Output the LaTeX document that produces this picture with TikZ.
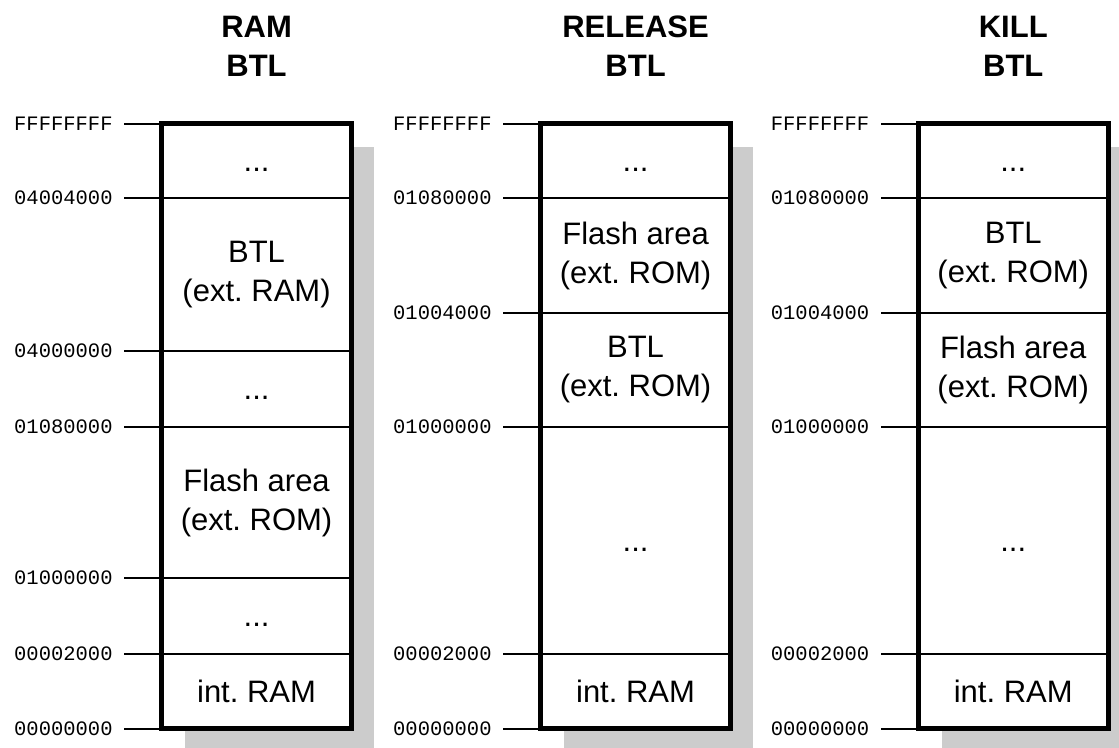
\documentclass[tikz,border=0pt]{standalone}
\usepackage{fontspec}
\setmainfont{Liberation Sans}
\newfontfamily\addrfamily{Liberation Mono}
\newcommand\addrfont{\addrfamily\fontsize{20.5}{24}\selectfont}
\newcommand\regionfont{\frenchspacing\fontsize{31}{39}\selectfont}
\newcommand\titlefont{\bfseries\fontsize{31}{39}\selectfont}
\newcommand\dotsfill{\vphantom{A}...}

\tikzset{
  memborder/.style={line width=5pt, line join=miter},
  divider/.style={line width=2pt},
  addrtick/.style={line width=2pt},
  addr/.style={font=\addrfont, anchor=east, inner sep=0pt},
  region/.style={font=\regionfont, align=center, inner sep=0pt},
  coltitle/.style={font=\titlefont, align=center, inner sep=0pt},
  dropshadow/.style={fill=black!20, draw=none}
}

\begin{document}
\begin{tikzpicture}[x=1pt, y=-1pt]
\useasboundingbox (0,0) rectangle (1119,747);

% ---------------- column 1 : RAM BTL ----------------
\begin{scope}[shift={(161.8,0)}]
  \fill[dropshadow] (23,146.5) rectangle (212.5,751.5);
  \fill[white] (0,123.5) rectangle (189.5,728.5);
  \node[coltitle] (ta) at (94.75,46) {RAM\\BTL};
  \foreach \yy [count=\i] in {198,351,427,578,654}
    \draw[divider] (0,\yy) coordinate (adl\i) -- (189.5,\yy) coordinate (adr\i);
  \foreach \yy/\lab [count=\i] in {123.5/FFFFFFFF,198/04004000,351/04000000,427/01080000,578/01000000,654/00002000,728.5/00000000}{
    \node[addr] (aa\i) at (-49,\yy) {\lab};
    \coordinate (aab\i) at (0,\yy);
    \draw[addrtick] ([xshift=11.5pt]aa\i.east) -- (aab\i);
  }
  \node[region] (ra1) at (94.75,160.75) {\dotsfill};
  \node[region] (ra2) at (94.75,274.5) {BTL\\(ext. RAM)};
  \node[region] (ra3) at (94.75,389) {\dotsfill};
  \node[region] (ra4) at (94.75,502.5) {Flash area\\(ext. ROM)};
  \node[region] (ra5) at (94.75,616) {\dotsfill};
  \node[region] (ra6) at (94.75,691.25) {int. RAM};
  \draw[memborder] (0,123.5) rectangle (189.5,728.5);
\end{scope}

% ---------------- column 2 : RELEASE BTL ----------------
\begin{scope}[shift={(540.8,0)}]
  \fill[dropshadow] (23,146.5) rectangle (212.5,751.5);
  \fill[white] (0,123.5) rectangle (189.5,728.5);
  \node[coltitle] (tb) at (94.75,46) {RELEASE\\BTL};
  \foreach \yy [count=\i] in {198,313,427,654}
    \draw[divider] (0,\yy) coordinate (bdl\i) -- (189.5,\yy) coordinate (bdr\i);
  \foreach \yy/\lab [count=\i] in {123.5/FFFFFFFF,198/01080000,313/01004000,427/01000000,654/00002000,728.5/00000000}{
    \node[addr] (ba\i) at (-49,\yy) {\lab};
    \coordinate (bab\i) at (0,\yy);
    \draw[addrtick] ([xshift=11.5pt]ba\i.east) -- (bab\i);
  }
  \node[region] (rb1) at (94.75,160.75) {\dotsfill};
  \node[region] (rb2) at (94.75,255.5) {Flash area\\(ext. ROM)};
  \node[region] (rb3) at (94.75,370) {BTL\\(ext. ROM)};
  \node[region] (rb4) at (94.75,540.5) {\dotsfill};
  \node[region] (rb5) at (94.75,691.25) {int. RAM};
  \draw[memborder] (0,123.5) rectangle (189.5,728.5);
\end{scope}

% ---------------- column 3 : KILL BTL ----------------
\begin{scope}[shift={(918.5,0)}]
  \fill[dropshadow] (23,146.5) rectangle (212.5,751.5);
  \fill[white] (0,123.5) rectangle (189.5,728.5);
  \node[coltitle] (tc) at (94.75,46) {KILL\\BTL};
  \foreach \yy [count=\i] in {198,313,427,654}
    \draw[divider] (0,\yy) coordinate (cdl\i) -- (189.5,\yy) coordinate (cdr\i);
  \foreach \yy/\lab [count=\i] in {123.5/FFFFFFFF,198/01080000,313/01004000,427/01000000,654/00002000,728.5/00000000}{
    \node[addr] (ca\i) at (-49,\yy) {\lab};
    \coordinate (cab\i) at (0,\yy);
    \draw[addrtick] ([xshift=11.5pt]ca\i.east) -- (cab\i);
  }
  \node[region] (rc1) at (94.75,160.75) {\dotsfill};
  \node[region] (rc2) at (94.75,255.5) {BTL\\(ext. ROM)};
  \node[region] (rc3) at (94.75,370) {Flash area\\(ext. ROM)};
  \node[region] (rc4) at (94.75,540.5) {\dotsfill};
  \node[region] (rc5) at (94.75,691.25) {int. RAM};
  \draw[memborder] (0,123.5) rectangle (189.5,728.5);
\end{scope}
\end{tikzpicture}
\end{document}
